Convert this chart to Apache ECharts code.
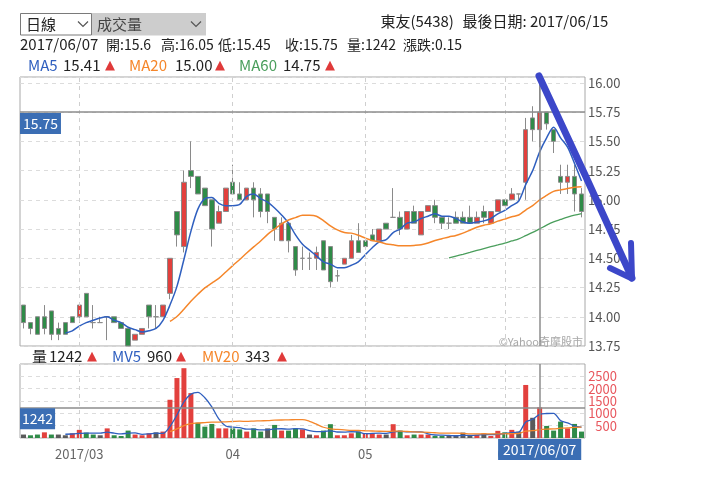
<!DOCTYPE html>
<html><head><meta charset="utf-8">
<script src="https://cdn.jsdelivr.net/npm/echarts@6/dist/echarts.min.js"></script>
<style>html,body{margin:0;padding:0;background:#fff;}#c{width:720px;height:487px;}</style>
</head><body><div id="c"></div>
<script>
// ---- data (one entry per trading day) ----
const opens  = [14.10,13.95,14.00,14.00,14.05,13.90,13.95,14.00,14.00,14.20,13.95,13.95,14.00,14.00,13.95,13.90,13.80,13.85,14.10,14.00,14.00,14.20,14.90,14.60,15.25,15.20,15.10,15.00,14.80,14.90,15.15,15.05,15.00,15.10,15.05,15.05,14.85,14.65,14.80,14.60,14.50,14.50,14.50,14.65,14.60,14.35,14.45,14.50,14.65,14.65,14.70,14.65,14.80,14.85,14.85,14.75,14.90,14.70,14.90,14.95,14.85,14.80,14.85,14.85,14.85,14.80,14.90,14.80,14.90,15.00,15.00,15.05,15.15,15.70,15.60,15.75,15.60,15.20,15.15,15.20,15.05];
const closes = [13.95,13.90,13.85,13.90,13.85,13.85,13.85,13.95,14.10,14.00,13.95,13.95,14.00,13.95,13.90,13.75,13.85,13.90,14.00,14.00,14.10,14.50,14.70,15.15,15.20,15.05,14.95,14.75,14.90,15.10,15.05,15.00,15.10,15.00,14.90,14.90,14.75,14.80,14.65,14.40,14.50,14.50,14.55,14.40,14.30,14.35,14.50,14.65,14.55,14.60,14.65,14.75,14.75,14.85,14.75,14.90,14.80,14.90,14.95,14.85,14.80,14.80,14.80,14.80,14.80,14.85,14.85,14.90,15.00,14.95,15.05,15.05,15.60,15.60,15.75,15.65,15.50,15.15,15.20,15.05,14.90];
const lows   = [13.90,13.85,13.85,13.85,13.80,13.80,13.85,13.95,13.95,14.00,13.90,13.95,13.80,13.95,13.90,13.75,13.80,13.85,13.90,13.90,14.00,14.15,14.60,14.55,15.10,15.05,14.95,14.60,14.80,14.90,15.05,15.00,15.00,14.85,14.85,14.80,14.65,14.65,14.55,14.35,14.40,14.40,14.40,14.40,14.25,14.30,14.45,14.50,14.55,14.60,14.65,14.65,14.75,14.85,14.70,14.75,14.80,14.70,14.90,14.80,14.75,14.75,14.80,14.80,14.80,14.80,14.80,14.80,14.90,14.95,15.00,15.00,15.00,15.50,15.45,15.60,15.40,15.05,15.05,14.90,14.85];
const highs  = [14.10,13.95,14.00,14.10,14.05,13.95,13.95,14.00,14.10,14.20,14.10,14.00,14.00,14.00,13.95,13.90,13.85,13.90,14.10,14.10,14.10,14.50,14.90,15.25,15.50,15.20,15.10,15.00,14.95,15.10,15.30,15.15,15.10,15.15,15.10,15.05,14.85,14.85,14.80,14.60,14.60,14.55,14.60,14.65,14.60,14.40,14.50,14.70,14.80,14.65,14.75,14.75,14.80,15.10,14.90,14.90,14.95,14.90,14.95,15.00,14.85,14.85,14.90,14.90,14.95,14.90,14.95,14.90,15.00,15.00,15.10,15.05,15.70,15.80,16.05,15.75,15.60,15.30,15.30,15.30,15.10];
const volumes = [140,110,140,230,140,140,110,190,330,220,140,110,390,110,80,300,140,110,190,230,260,1550,2430,2830,1820,620,460,570,390,390,390,350,260,390,260,390,530,300,300,390,350,140,110,300,560,110,110,190,260,190,190,140,140,560,300,110,140,140,140,80,80,80,80,220,80,130,180,80,290,230,330,260,2150,820,1242,490,300,665,390,570,260];

// month ticks on the date axis (index of the day the month line sits on)
const monthIdx = [8, 30, 49, 69];
const monthLabels = ['2017/03', '04', '05', '06'];
const cursorIdx = 74;
const cursorDate = '2017/06/07';
const stockTitle = '東友(5438)';
const lastDateText = '最後日期: 2017/06/15';
const maFirst = 2; // moving averages are counted from this day on

// ---- build ----
const cats = closes.map((_, i) => String(i));
const ohlc = closes.map((c, i) => [opens[i], c, lows[i], highs[i]]);
function movingAvg(arr, n) {
  return arr.map((_, i) => {
    if (i < maFirst + n - 1) return null;
    let s = 0; for (let k = i - n + 1; k <= i; k++) s += arr[k];
    return +(s / n).toFixed(4);
  });
}
const ma5 = movingAvg(closes, 5), ma20 = movingAvg(closes, 20), ma60 = movingAvg(closes, 60);
const mv5 = movingAvg(volumes, 5), mv20 = movingAvg(volumes, 20);

const FONT = '"Noto Sans CJK TC","Noto Sans",sans-serif';
const RED = '#e2403d', GREEN = '#2f8b48', FLAT = '#5a5a5a';
const C_MA5 = '#2f5fbf', C_MA20 = '#f5862a', C_MA60 = '#4a9e5c';
const LBL_BG = '#3b6eb4';
const TRI = '#e03a3a';

function volColor(i) {
  if (i === 0) return FLAT;
  if (closes[i] > closes[i - 1]) return RED;
  if (closes[i] < closes[i - 1]) return GREEN;
  return FLAT;
}
const short = v => String(+v.toFixed(2));
const ci = cursorIdx;
const chg = closes[ci] - closes[ci - 1];

function txt(text, x, y, color, size, extra) {
  return Object.assign({ type: 'text', x: x, y: y, silent: true,
    style: Object.assign({ text: text, fill: color || '#222', font: (size || 15) + 'px ' + FONT, verticalAlign: 'middle' }, extra || {}) });
}
function tri(x, y) {
  return { type: 'text', x: x, y: y, silent: true, style: { text: '▲', fill: TRI, font: '13px "DejaVu Sans"', verticalAlign: 'middle' } };
}

const graphics = [
  // selector boxes
  { type: 'rect', shape: { x: 20.5, y: 13.5, width: 71, height: 21.5 }, style: { fill: '#fff', stroke: '#7a7a7a', lineWidth: 1 } },
  { type: 'rect', shape: { x: 92, y: 13, width: 114, height: 22.5 }, style: { fill: '#cdcdcd' } },
  txt('日線', 26, 24.5, '#222', 15),
  txt('成交量', 97, 24.5, '#444', 15),
  { type: 'polyline', shape: { points: [[78, 21.5], [83, 26.5], [88, 21.5]] }, style: { stroke: '#555', lineWidth: 1.2, fill: null } },
  { type: 'polyline', shape: { points: [[191, 21.5], [196, 26.5], [201, 21.5]] }, style: { stroke: '#555', lineWidth: 1.2, fill: null } },
  // title
  txt(stockTitle, 380.5, 21.5, '#222', 15),
  txt(lastDateText, 462.5, 21.5, '#222', 15),
  // day info row
  txt(cursorDate, 20, 44.5, '#222', 15),
  txt('開:' + short(opens[ci]), 106, 44.5, '#222', 14),
  txt('高:' + short(highs[ci]), 161, 44.5, '#222', 14),
  txt('低:' + short(lows[ci]), 218, 44.5, '#222', 14),
  txt('收:' + short(closes[ci]), 285, 44.5, '#222', 14),
  txt('量:' + volumes[ci], 347, 44.5, '#222', 14),
  txt('漲跌:' + short(chg), 403, 44.5, '#222', 14),
  // MA legend row
  txt('MA5', 28, 65.5, C_MA5, 15), txt(ma5[ci].toFixed(2), 63, 65.5, '#222', 15), tri(105, 66),
  txt('MA20', 129, 65.5, C_MA20, 15), txt(ma20[ci].toFixed(2), 175, 65.5, '#222', 15), tri(215, 66),
  txt('MA60', 239, 65.5, C_MA60, 15), txt(ma60[ci].toFixed(2), 283, 65.5, '#222', 15), tri(325, 66),
  // volume legend row
  txt('量', 32, 356, '#222', 15), txt(String(volumes[ci]), 49, 356, '#222', 15), tri(87, 356.5),
  txt('MV5', 112, 356, C_MA5, 15), txt(String(Math.round(mv5[ci])), 147, 356, '#222', 15), tri(176, 356.5),
  txt('MV20', 202, 356, C_MA20, 15), txt(String(Math.round(mv20[ci])), 245, 356, '#222', 15), tri(277, 356.5),
  // watermark
  txt('©Yahoo奇摩股市', 583, 341.5, '#a8a8a8', 11, { align: 'right' }),
  // hand drawn arrow
  { type: 'polyline', z: 100, shape: { points: [[539, 76], [586, 177], [632, 278]] },
    style: { stroke: '#3c47c9', lineWidth: 7, lineCap: 'round', lineJoin: 'round', fill: null } },
  { type: 'polyline', z: 100, shape: { points: [[610, 268], [632, 278.5], [631, 243]] },
    style: { stroke: '#3c47c9', lineWidth: 6, lineCap: 'round', lineJoin: 'round', fill: null } }
];

const cursorLine = { color: '#8c8c8c', width: 1.5, type: 'solid' };
const boxLabel = { show: true, backgroundColor: LBL_BG, color: '#fff', fontSize: 14, fontFamily: FONT, lineHeight: 15 };
const monthLine = { color: '#cfcfcf', width: 1, type: [4, 4] };

const option = {
  animation: false,
  textStyle: { fontFamily: FONT },
  graphic: graphics,
  grid: [
    { left: 20, top: 77, width: 565, height: 269, show: true, borderColor: '#a8a8a8', borderWidth: 1 },
    { left: 20, top: 364, width: 565, height: 74, show: true, borderColor: '#a8a8a8', borderWidth: 1 }
  ],
  xAxis: [
    { type: 'category', gridIndex: 0, data: cats, boundaryGap: true,
      axisLine: { show: false }, axisTick: { show: false }, axisLabel: { show: false }, splitLine: { show: false } },
    { type: 'category', gridIndex: 1, data: cats, boundaryGap: true,
      axisLine: { show: false }, axisTick: { show: false }, splitLine: { show: false },
      axisLabel: { interval: (i) => monthIdx.indexOf(i) >= 0, formatter: (v, i) => { const k = monthIdx.indexOf(i); return k >= 0 ? monthLabels[k] : ''; },
                   color: '#666', fontSize: 13, margin: 10 } }
  ],
  yAxis: [
    { type: 'value', gridIndex: 0, position: 'right', min: 13.75, max: 16.05, interval: 0.25,
      axisLine: { show: false }, axisTick: { show: false },
      axisLabel: { color: '#555', fontSize: 13, margin: 3, formatter: v => v.toFixed(2), showMaxLabel: false },
      splitLine: { lineStyle: { color: '#dcdcdc', type: [4, 4] } } },
    { type: 'value', gridIndex: 1, position: 'right', min: 0, max: 3000, interval: 500,
      axisLine: { show: false }, axisTick: { show: false },
      axisLabel: { color: '#e8575e', fontSize: 13, margin: 32, align: 'right', showMinLabel: false, showMaxLabel: false,
                   formatter: v => String(v) },
      splitLine: { lineStyle: { color: '#dcdcdc', type: [4, 4] } } }
  ],
  series: [
    { type: 'line', xAxisIndex: 0, yAxisIndex: 0, data: [], z: 1, silent: true,
      markLine: { silent: true, symbol: 'none', animation: false, label: { show: false }, lineStyle: monthLine,
                  data: monthIdx.map(i => ({ xAxis: i })) } },
    { type: 'line', xAxisIndex: 1, yAxisIndex: 1, data: [], z: 1, silent: true,
      markLine: { silent: true, symbol: 'none', animation: false, label: { show: false }, lineStyle: monthLine,
                  data: monthIdx.map(i => ({ xAxis: i })) } },
    { type: 'candlestick', xAxisIndex: 0, yAxisIndex: 0, data: ohlc, barWidth: 5, z: 3,
      itemStyle: { color: RED, color0: GREEN, borderColor: '#8a8a8a', borderColor0: '#8a8a8a', borderColorDoji: '#8a8a8a', borderWidth: 1 },
      markLine: { silent: true, symbol: 'none', animation: false, lineStyle: cursorLine,
        data: [
          { xAxis: ci, label: { show: false } },
          { yAxis: closes[ci], label: Object.assign({}, boxLabel, { position: 'insideStartBottom', formatter: closes[ci].toFixed(2), padding: [3, 3], distance: [0, 1] }) }
        ] } },
    { type: 'line', name: 'MA5', xAxisIndex: 0, yAxisIndex: 0, data: ma5, showSymbol: false, smooth: 0.3, z: 4,
      lineStyle: { color: C_MA5, width: 1.5 } },
    { type: 'line', name: 'MA20', xAxisIndex: 0, yAxisIndex: 0, data: ma20, showSymbol: false, smooth: 0.3, z: 4,
      lineStyle: { color: C_MA20, width: 1.5 } },
    { type: 'line', name: 'MA60', xAxisIndex: 0, yAxisIndex: 0, data: ma60, showSymbol: false, smooth: 0.3, z: 4,
      lineStyle: { color: C_MA60, width: 1.3 } },
    { type: 'bar', xAxisIndex: 1, yAxisIndex: 1, barWidth: 5, z: 3,
      data: volumes.map((v, i) => ({ value: v, itemStyle: { color: volColor(i) } })),
      markLine: { silent: true, symbol: 'none', animation: false, lineStyle: cursorLine,
        data: [
          { xAxis: ci, label: Object.assign({}, boxLabel, { position: 'start', formatter: cursorDate, padding: [3, 5], distance: 1 }) },
          { yAxis: volumes[ci], label: Object.assign({}, boxLabel, { position: 'insideStartBottom', formatter: String(volumes[ci]), padding: [3, 2], distance: [0, 1] }) }
        ] } },
    { type: 'line', name: 'MV5', xAxisIndex: 1, yAxisIndex: 1, data: mv5, showSymbol: false, smooth: 0.3, z: 4,
      lineStyle: { color: C_MA5, width: 1.3 } },
    { type: 'line', name: 'MV20', xAxisIndex: 1, yAxisIndex: 1, data: mv20, showSymbol: false, smooth: 0.3, z: 4,
      lineStyle: { color: C_MA20, width: 1.3 } }
  ]
};
const chart = echarts.init(document.getElementById('c'), null, { renderer: 'canvas', width: 720, height: 487 });
chart.setOption(option);
</script>
</body></html>
